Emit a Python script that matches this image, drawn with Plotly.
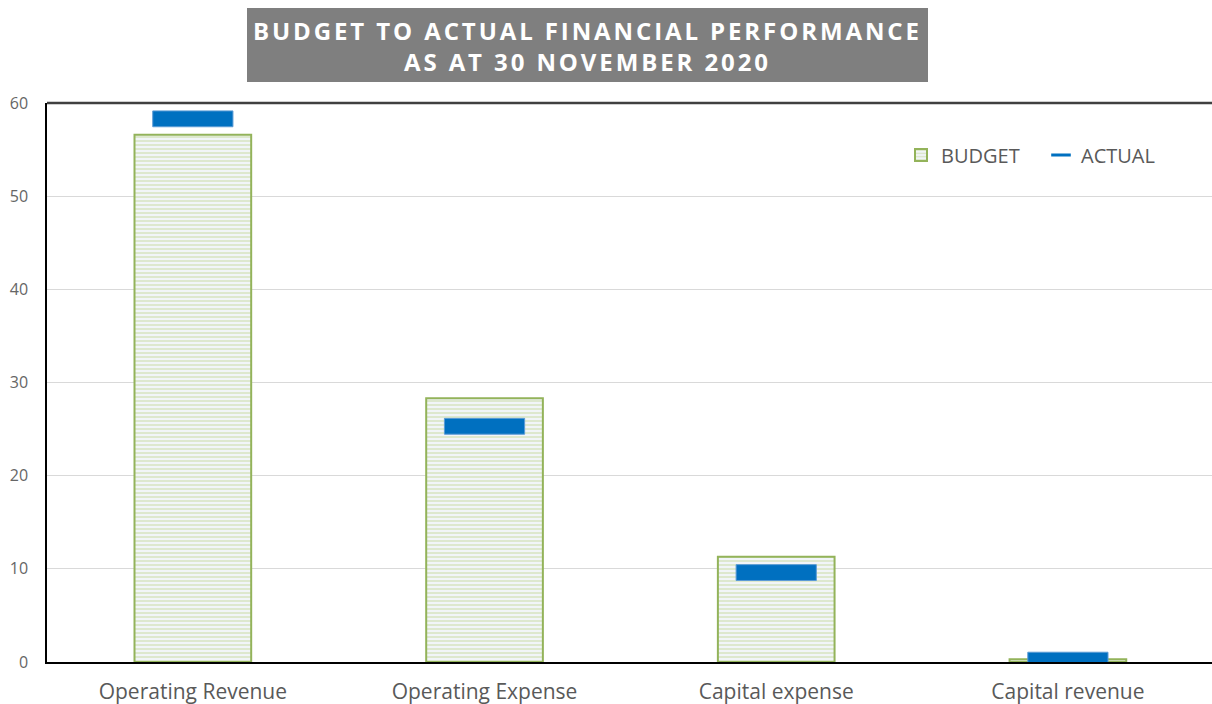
import plotly.graph_objects as go

categories = ["Operating Revenue", "Operating Expense", "Capital expense", "Capital revenue"]
budget = [56.6, 28.3, 11.3, 0.3]
actual = [58.3, 25.3, 9.6, 0.2]
y_ticks = [0, 10, 20, 30, 40, 50, 60]

W, H = 1212, 704
L, R, T, B = 47, 0, 103, 42
pw, ph = W - L - R, H - T - B

def px(x):
    return (x - L) / pw

def py(y):
    return (H - B - y) / ph

marker_h = 1.7

fig = go.Figure()
fig.add_trace(go.Bar(
    x=categories, y=budget, name="BUDGET", width=0.4,
    marker=dict(color="#F3F7EC",
                line=dict(color="#93B35A", width=2),
                pattern=dict(shape="-", fgcolor="#CADBA3", bgcolor="#F1F5F8", size=4, solidity=0.5)),
))
fig.add_trace(go.Bar(
    x=categories, y=[marker_h] * len(actual), base=[a - marker_h / 2 for a in actual],
    name="ACTUAL", width=0.275, showlegend=False,
    marker=dict(color="#0070C0", line=dict(color="#5B9BD5", width=1)),
))
fig.add_trace(go.Scatter(
    x=[None], y=[None], mode="markers", name="ACTUAL",
    marker=dict(symbol="line-ew-open", size=14, color="#0070C0", line=dict(color="#0070C0", width=3)),
))

fig.update_layout(
    width=W, height=H,
    margin=dict(l=L, r=R, t=T, b=B, pad=0),
    paper_bgcolor="white", plot_bgcolor="white",
    barmode="overlay",
    font=dict(family="Open Sans", color="#595959"),
    showlegend=True,
    legend=dict(orientation="h", x=px(901), y=py(155), yanchor="middle", xanchor="left",
                font=dict(size=20, color="#595959"), bgcolor="rgba(0,0,0,0)",
                itemwidth=30, traceorder="normal", entrywidth=95),
    xaxis=dict(range=[-0.5, 3.494], showgrid=False, showline=True, linecolor="black", linewidth=1.5,
               ticks="", tickfont=dict(size=21, color="#595959"), ticklabelstandoff=10),
    yaxis=dict(range=[0, 60], tickvals=y_ticks, showgrid=True, gridcolor="#D9D9D9", gridwidth=1,
               showline=True, linecolor="black", linewidth=1.5, zeroline=False,
               ticks="", tickfont=dict(size=16, color="#666666"), ticklabelstandoff=14),
    shapes=[
        dict(type="line", xref="paper", yref="paper", x0=0, x1=1, y0=1, y1=1,
             line=dict(color="#404040", width=2.5)),
        dict(type="rect", xref="paper", yref="paper", x0=px(247), x1=px(928), y0=py(82), y1=py(8),
             fillcolor="#7F7F7F", line=dict(width=0), layer="above"),
    ],
    annotations=[
        dict(xref="paper", yref="paper", x=px(587), y=py(46), xanchor="center", yanchor="middle",
             showarrow=False, align="center",
             text='<span style="letter-spacing:2.9px"><b>BUDGET TO ACTUAL FINANCIAL PERFORMANCE<br>AS AT 30 NOVEMBER 2020</b></span>',
             font=dict(family="Open Sans", size=24, color="white")),
    ],
)

fig.write_html("out.html")
